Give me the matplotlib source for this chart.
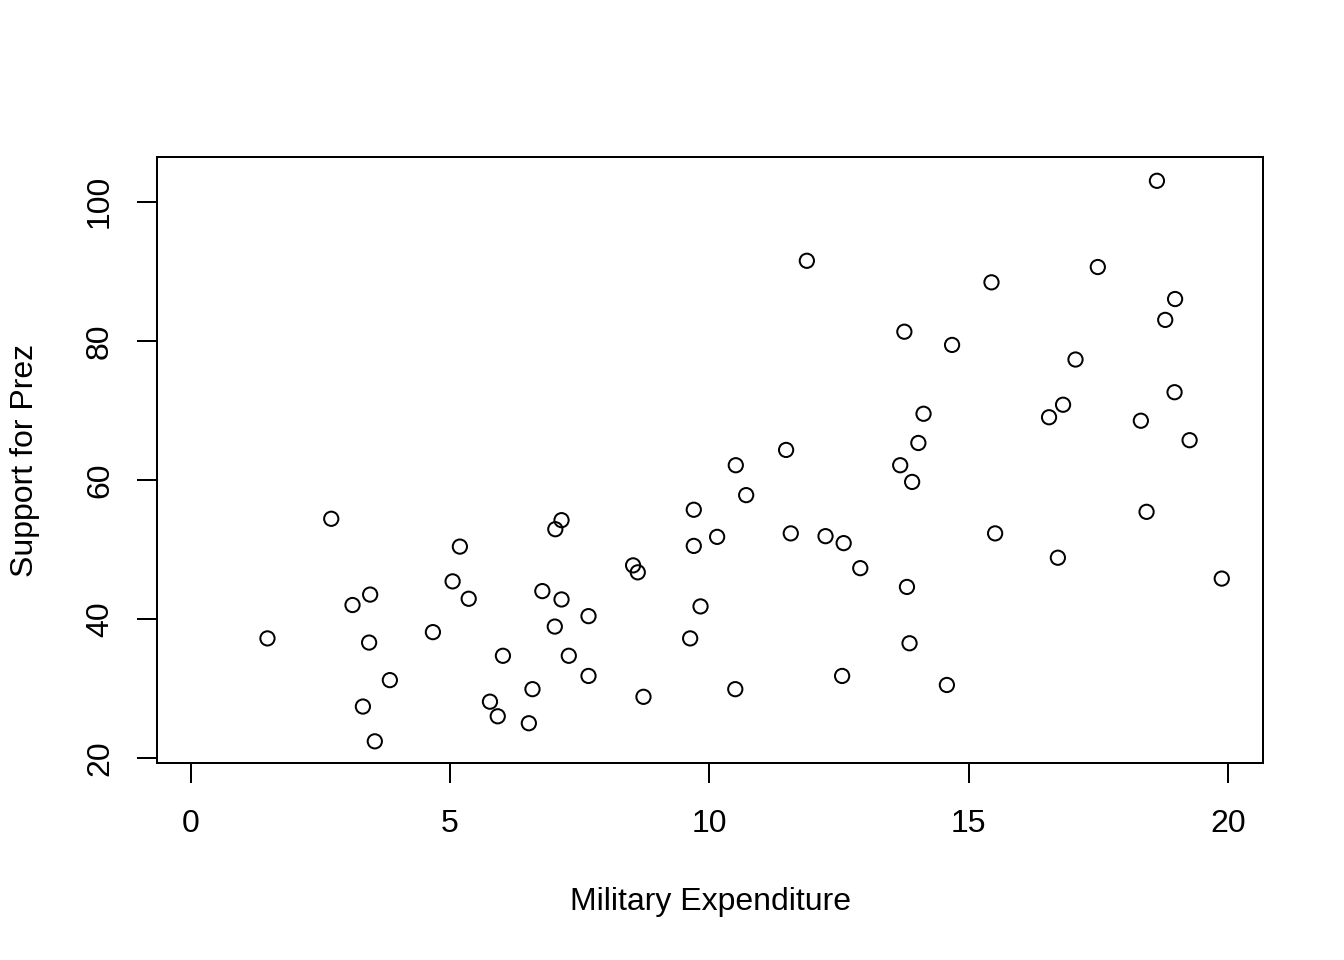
"""
plot.py
-------
Scatter plot of military expenditure vs. support for the president,
drawn in the look of an R base-graphics plot.

Output: out.png
"""

import matplotlib
matplotlib.use("Agg")
import matplotlib.pyplot as plt

# -- Data ----------------------------------------------------------------------

military_exp = [
    1.48, 2.71, 3.12, 3.46, 3.44, 3.32, 3.55, 3.84, 4.67, 5.05,
    5.19, 5.36, 5.77, 5.92, 6.02, 6.52, 6.59, 6.78, 7.03, 7.15,
    7.02, 7.15, 7.29, 7.67, 7.67, 8.53, 8.62, 8.73, 9.63, 9.70,
    9.70, 9.83, 10.15, 10.50, 10.51, 10.71, 11.48, 11.57, 11.88, 12.24,
    12.56, 12.59, 12.91, 13.68, 13.76, 13.81, 13.86, 13.91, 14.03, 14.13,
    14.58, 14.68, 15.44, 15.51, 16.55, 16.72, 16.82, 17.06, 17.49, 18.32,
    18.43, 18.63, 18.79, 18.98, 18.97, 19.26, 19.88,
]

support_prez = [
    37.2, 54.4, 42.0, 43.5, 36.6, 27.4, 22.4, 31.2, 38.1, 45.4,
    50.4, 42.9, 28.1, 26.0, 34.7, 25.0, 29.9, 44.0, 52.9, 54.2,
    38.9, 42.8, 34.7, 40.4, 31.8, 47.7, 46.7, 28.8, 37.2, 55.7,
    50.5, 41.8, 51.8, 29.9, 62.1, 57.8, 64.3, 52.3, 91.5, 51.9,
    31.8, 50.9, 47.3, 62.1, 81.3, 44.6, 36.5, 59.7, 65.3, 69.5,
    30.5, 79.4, 88.4, 52.3, 69.0, 48.8, 70.8, 77.3, 90.6, 68.5,
    55.4, 103.0, 83.0, 86.0, 72.6, 65.7, 45.8,
]

x_ticks = [0, 5, 10, 15, 20]
y_ticks = [20, 40, 60, 80, 100]

X_LABEL = "Military Expenditure"
Y_LABEL = "Support for Prez"

# -- Style ---------------------------------------------------------------------

plt.rcParams["font.family"] = ["Liberation Sans", "DejaVu Sans"]
FONT_SIZE = 23
LINE_W = 1.44

# -- Plot ----------------------------------------------------------------------

fig = plt.figure(figsize=(13.44, 9.6), dpi=100)
ax = fig.add_axes([0.11704, 0.2049, 0.82292, 0.63125])

ax.scatter(
    military_exp,
    support_prez,
    s=105,
    facecolors="none",
    edgecolors="black",
    linewidths=LINE_W,
)

ax.set_xlim(-0.644, 20.681)
ax.set_ylim(19.24, 106.38)

ax.set_xticks(x_ticks)
ax.set_yticks(y_ticks)
ax.tick_params(axis="both", direction="out", length=14.4, width=LINE_W,
               labelsize=FONT_SIZE, color="black")
ax.tick_params(axis="x", pad=18.5)
ax.tick_params(axis="y", pad=16)
for lab in ax.get_yticklabels():
    lab.set_rotation(90)
    lab.set_va("center")

for spine in ax.spines.values():
    spine.set_linewidth(LINE_W)
    spine.set_color("black")

ax.set_xlabel(X_LABEL, fontsize=FONT_SIZE, va="center")
ax.set_ylabel(Y_LABEL, fontsize=FONT_SIZE, va="center")
ax.xaxis.set_label_coords(0.5, -0.229)
ax.yaxis.set_label_coords(-0.1196, 0.5)

fig.savefig("out.png", dpi=100)
